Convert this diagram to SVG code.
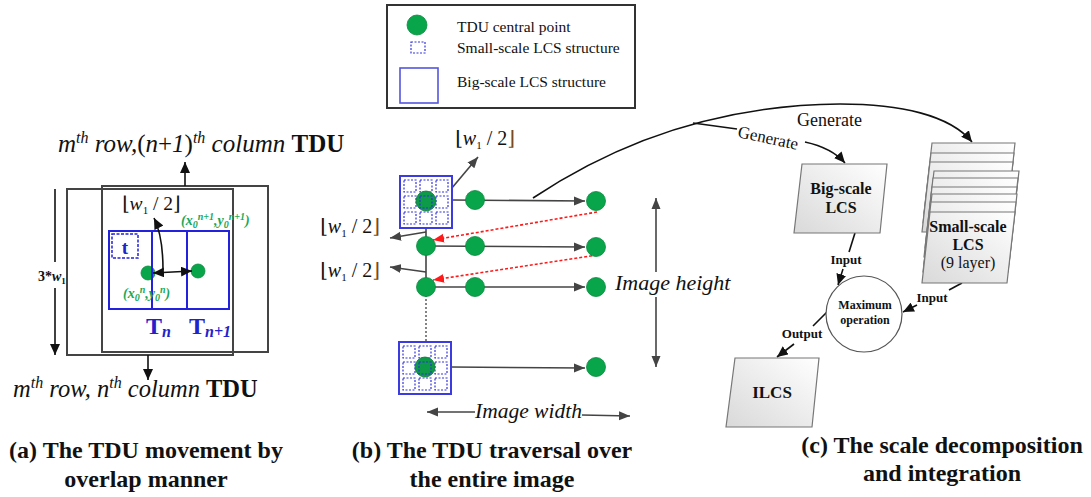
<svg xmlns="http://www.w3.org/2000/svg" width="1091" height="497" viewBox="0 0 1091 497">
  <style>
    text { font-family: "Liberation Serif", "Times New Roman", Times, serif; fill: #111; }
    .br { font-family: "DejaVu Serif", serif; }
    .it { font-style: italic; }
    .bd { font-weight: bold; }
    .cap { font-size: 24px; font-weight: bold; text-anchor: middle; }
    .frame { fill: none; stroke: #444; stroke-width: 2; }
    .blue { fill: none; stroke: #2222dd; stroke-width: 2; }
    .cell { fill: none; stroke: #3333dd; stroke-width: 1.2; stroke-dasharray: 2 1.5; }
    .dot { fill: #08a54b; stroke: #0a8a3e; stroke-width: 0.8; }
    .gline { fill: none; stroke: #444; stroke-width: 1.6; }
    .kline { fill: none; stroke: #111; stroke-width: 1.6; }
    .red { fill: none; stroke: #ff1a1a; stroke-width: 1.6; stroke-dasharray: 3 2; }
    .para { fill: url(#paper); stroke: #777; stroke-width: 1.2; }
    .green { fill: #19a857; font-weight: bold; font-style: italic; font-size: 14px; }
    .tb { fill: #2222cc; font-weight: bold; }
    .small { font-size: 13px; font-weight: bold; }
  </style>
  <defs>
    <linearGradient id="paper" x1="1" y1="0" x2="0" y2="1">
      <stop offset="0" stop-color="#ffffff"/>
      <stop offset="1" stop-color="#d9d9d9"/>
    </linearGradient>
    <marker id="ak" markerUnits="userSpaceOnUse" markerWidth="12" markerHeight="10" refX="11" refY="5" orient="auto-start-reverse">
      <path d="M0,0 L11,5 L0,10 z" fill="#111"/>
    </marker>
    <marker id="ag" markerUnits="userSpaceOnUse" markerWidth="12" markerHeight="10" refX="11" refY="5" orient="auto-start-reverse">
      <path d="M0,0.5 L11,5 L0,9.5 z" fill="#444"/>
    </marker>
    <marker id="ar" markerUnits="userSpaceOnUse" markerWidth="12" markerHeight="10" refX="11" refY="5" orient="auto">
      <path d="M0,0.5 L11,5 L0,9.5 z" fill="#ff1a1a"/>
    </marker>
    <!-- 3x3 block of small-scale cells inside a big-scale square -->
    <g id="grid">
      <rect x="0" y="0" width="52" height="52" fill="#fff" stroke="#3b3be0" stroke-width="2"/>
      <rect class="cell" x="4" y="4" width="12" height="12"/>
      <rect class="cell" x="20" y="4" width="12" height="12"/>
      <rect class="cell" x="36" y="4" width="12" height="12"/>
      <rect class="cell" x="4" y="20" width="12" height="12"/>
      <rect class="cell" x="36" y="20" width="12" height="12"/>
      <rect class="cell" x="4" y="36" width="12" height="12"/>
      <rect class="cell" x="20" y="36" width="12" height="12"/>
      <rect class="cell" x="36" y="36" width="12" height="12"/>
      <circle cx="26" cy="25" r="10" fill="#0d9a49" stroke="#0a7a38" stroke-width="0.8"/>
      <rect class="cell" x="20" y="20" width="12" height="12"/>
    </g>
  </defs>

  <rect width="1091" height="497" fill="#fff"/>

  <!-- Legend -->
  <g id="legend">
    <rect x="387" y="5" width="248" height="103" fill="#fff" stroke="#333" stroke-width="2"/>
    <circle class="dot" cx="417" cy="25" r="10"/>
    <rect class="cell" x="411" y="42" width="14" height="11"/>
    <rect x="400" y="68" width="38" height="35" fill="none" stroke="#5555dd" stroke-width="1.6"/>
    <text x="457" y="32" font-size="15.5">TDU central point</text>
    <text x="457" y="53" font-size="15.5">Small-scale LCS structure</text>
    <text x="457" y="87" font-size="15.5">Big-scale LCS structure</text>
  </g>

  <!-- Panel (a): TDU moving with overlap -->
  <g id="panel-a">
    <g id="tdu-frames">
      <rect class="frame" x="67" y="189" width="166" height="166"/>
      <rect class="frame" x="102" y="186" width="166" height="166"/>
    </g>
    <g id="cells-a">
      <circle class="dot" cx="148" cy="273" r="7"/>
      <circle class="dot" cx="198" cy="271" r="7"/>
      <rect class="blue" x="109" y="231" width="120" height="78"/>
      <line x1="152" y1="231" x2="152" y2="309" stroke="#2222dd" stroke-width="2"/>
      <line x1="187" y1="231" x2="187" y2="309" stroke="#2222dd" stroke-width="2"/>
      <rect x="112" y="234" width="26" height="24" fill="none" stroke="#2222dd" stroke-width="1.5" stroke-dasharray="3 1.5"/>
      <text class="tb" x="125" y="254" font-size="19" text-anchor="middle">t</text>
    </g>
    <g id="labels-a">
      <text x="58" y="152" font-size="25"><tspan class="it">m</tspan><tspan class="it" font-size="16" dy="-9">th</tspan><tspan class="it" dy="9"> row,</tspan><tspan>(</tspan><tspan class="it">n</tspan><tspan>+</tspan><tspan class="it">1</tspan><tspan>)</tspan><tspan class="it" font-size="16" dy="-9">th</tspan><tspan class="it" dy="9"> column </tspan><tspan class="bd">TDU</tspan></text>
      <text x="13" y="397" font-size="24.5"><tspan class="it">m</tspan><tspan class="it" font-size="16" dy="-9">th</tspan><tspan class="it" dy="9"> row, n</tspan><tspan class="it" font-size="16" dy="-9">th</tspan><tspan class="it" dy="9"> column </tspan><tspan class="bd">TDU</tspan></text>
      <text x="122" y="210" font-size="19.5"><tspan class="br">⌊</tspan><tspan class="it">w</tspan><tspan font-size="11" dy="4">1</tspan><tspan dy="-4"> / 2</tspan><tspan class="br">⌋</tspan></text>
      <text class="green" x="181" y="225">(x<tspan font-size="10" dy="3">0</tspan><tspan font-size="10" dy="-8">n+1</tspan><tspan dy="5">,y</tspan><tspan font-size="10" dy="3">0</tspan><tspan font-size="10" dy="-8">n+1</tspan><tspan dy="5">)</tspan></text>
      <text class="green" x="123" y="298">(x<tspan font-size="10" dy="3">0</tspan><tspan font-size="10" dy="-8">n</tspan><tspan dy="5">,y</tspan><tspan font-size="10" dy="3">0</tspan><tspan font-size="10" dy="-8">n</tspan><tspan dy="5">)</tspan></text>
      <text class="tb" x="146" y="334" font-size="24">T<tspan font-size="16" font-style="italic" dy="3">n</tspan></text>
      <text class="tb" x="189" y="334" font-size="24">T<tspan font-size="16" font-style="italic" dy="3">n+1</tspan></text>
      <text x="38" y="281" font-size="14" class="bd">3*<tspan class="it">w</tspan><tspan font-size="9" dy="3">1</tspan></text>
    </g>
    <g id="connectors-a">
      <line class="kline" x1="185" y1="186" x2="185" y2="162" marker-end="url(#ak)"/>
      <line class="kline" x1="148" y1="355" x2="148" y2="380" marker-end="url(#ak)"/>
      <line class="kline" x1="55" y1="189" x2="55" y2="262"/>
      <line class="kline" x1="55" y1="288" x2="55" y2="355" marker-end="url(#ak)"/>
      <line class="kline" x1="153" y1="273" x2="192" y2="271" marker-start="url(#ak)" marker-end="url(#ak)"/>
      <path class="kline" d="M163,270 Q163,236 154,218" marker-end="url(#ak)"/>
    </g>
  </g>

  <!-- Panel (b): traversal of the TDU over the image -->
  <g id="panel-b">
    <g id="connectors-b">
      <line class="gline" x1="426" y1="227" x2="426" y2="287"/>
      <line x1="426" y1="287" x2="426" y2="358" stroke="#333" stroke-width="1.2" stroke-dasharray="2 2"/>
      <line class="gline" x1="452" y1="200" x2="585" y2="201" marker-end="url(#ag)"/>
      <line class="gline" x1="426" y1="246" x2="585" y2="247" marker-end="url(#ag)"/>
      <line class="gline" x1="426" y1="287" x2="585" y2="287" marker-end="url(#ag)"/>
      <line class="gline" x1="451" y1="367" x2="585" y2="368" marker-end="url(#ag)"/>
      <line class="gline" x1="446" y1="195" x2="478" y2="157" marker-end="url(#ag)"/>
      <line class="gline" x1="426" y1="232" x2="390" y2="238" marker-end="url(#ag)"/>
      <line class="gline" x1="426" y1="272" x2="390" y2="267" marker-end="url(#ag)"/>
      <line class="red" x1="597" y1="212" x2="433" y2="240" marker-end="url(#ar)"/>
      <line class="red" x1="597" y1="255" x2="433" y2="280" marker-end="url(#ar)"/>
      <line class="gline" x1="656" y1="272" x2="656" y2="198" marker-end="url(#ag)"/>
      <line class="gline" x1="656" y1="297" x2="656" y2="367" marker-end="url(#ag)"/>
      <line class="gline" x1="475" y1="412" x2="427" y2="412" marker-end="url(#ag)"/>
      <line class="gline" x1="582" y1="415" x2="630" y2="416" marker-end="url(#ag)"/>
    </g>
    <use id="tdu-start" href="#grid" x="400" y="176"/>
    <use id="tdu-last-row" href="#grid" x="399" y="342"/>
    <g id="centres">
      <circle class="dot" cx="475" cy="200" r="9.5"/>
      <circle class="dot" cx="596" cy="201" r="9.5"/>
      <circle class="dot" cx="426" cy="246" r="9.5"/>
      <circle class="dot" cx="475" cy="246" r="9.5"/>
      <circle class="dot" cx="596" cy="247" r="9.5"/>
      <circle class="dot" cx="426" cy="287" r="9.5"/>
      <circle class="dot" cx="475" cy="287" r="9.5"/>
      <circle class="dot" cx="596" cy="287" r="9.5"/>
      <circle class="dot" cx="596" cy="367" r="9.5"/>
    </g>
    <g id="labels-b">
      <text x="455" y="145" font-size="20"><tspan class="br">⌊</tspan><tspan class="it">w</tspan><tspan font-size="11" dy="4">1</tspan><tspan dy="-4"> / 2</tspan><tspan class="br" fill="#7a4a1a">⌋</tspan></text>
      <text x="320" y="233" font-size="20"><tspan class="br">⌊</tspan><tspan class="it">w</tspan><tspan font-size="11" dy="4">1</tspan><tspan dy="-4"> / 2</tspan><tspan class="br" fill="#7a4a1a">⌋</tspan></text>
      <text x="320" y="277" font-size="20"><tspan class="br">⌊</tspan><tspan class="it">w</tspan><tspan font-size="11" dy="4">1</tspan><tspan dy="-4"> / 2</tspan><tspan class="br" fill="#7a4a1a">⌋</tspan></text>
      <text class="it" x="615" y="290" font-size="22">Image height</text>
      <text class="it" x="475" y="418" font-size="21.5">Image width</text>
    </g>
  </g>

  <!-- Panel (c): scale decomposition and integration -->
  <g id="panel-c">
    <g id="connectors-c">
      <path class="kline" d="M533,198 C620,140 720,105 840,104 C900,104 950,115 972,142" marker-end="url(#ak)"/>
      <line class="kline" x1="693" y1="123" x2="737" y2="129"/>
      <path class="kline" d="M805,142 Q832,148 845,163" marker-end="url(#ak)"/>
      <line class="kline" x1="855" y1="233" x2="849" y2="252"/>
      <line class="kline" x1="843" y1="269" x2="838" y2="285" marker-end="url(#ak)"/>
      <line class="kline" x1="962" y1="283" x2="949" y2="290"/>
      <line class="kline" x1="917" y1="305" x2="903" y2="312" marker-end="url(#ak)"/>
      <line class="kline" x1="828" y1="311" x2="813" y2="326"/>
      <line class="kline" x1="794" y1="344" x2="777" y2="357" marker-end="url(#ak)"/>
    </g>
    <text x="797" y="126" font-size="18">Generate</text>
    <text x="737" y="137" font-size="17" transform="rotate(12 737 137)">Generate</text>

    <g id="big-scale-lcs">
      <polygon class="para" points="802,164 887,164 880,233 794,233"/>
      <text class="bd" x="841" y="194" font-size="16" text-anchor="middle">Big-scale</text>
      <text class="bd" x="841" y="213" font-size="16" text-anchor="middle">LCS</text>
    </g>

    <g id="small-scale-lcs">
      <polygon class="para" points="932,143 1015,143 1007,213 924,213"/>
      <polygon class="para" points="931,153 1014,153 1006,223 923,223"/>
      <polygon class="para" points="930,162 1013,162 1005,232 922,232"/>
      <polygon class="para" points="934,171 1019,171 1011,241 926,241"/>
      <polygon class="para" points="933,178 1018,178 1010,248 925,248"/>
      <polygon class="para" points="932,187 1017,187 1009,257 924,257"/>
      <polygon class="para" points="932,194 1017,194 1009,264 924,264"/>
      <polygon class="para" points="931,202 1016,202 1008,272 923,272"/>
      <polygon class="para" points="930,212 1015,212 1007,283 922,283"/>
      <text class="bd" x="968" y="232" font-size="16" text-anchor="middle">Small-scale</text>
      <text class="bd" x="968" y="250" font-size="16" text-anchor="middle">LCS</text>
      <text x="968" y="268" font-size="16" text-anchor="middle">(9 layer)</text>
    </g>

    <g id="max-operation">
      <circle cx="864" cy="314" r="38" fill="#fff" stroke="#555" stroke-width="1.2"/>
      <text class="bd" x="865" y="309" font-size="12" text-anchor="middle">Maximum</text>
      <text class="bd" x="865" y="324" font-size="12" text-anchor="middle">operation</text>
    </g>

    <g id="ilcs">
      <polygon class="para" points="735,358 819,358 812,427 726,427"/>
      <text class="bd" x="772" y="398" font-size="17" text-anchor="middle">ILCS</text>
    </g>

    <text class="small" x="846" y="264" text-anchor="middle">Input</text>
    <text class="small" x="932" y="302" text-anchor="middle">Input</text>
    <text class="small" x="802" y="338" text-anchor="middle">Output</text>
  </g>

  <!-- Captions -->
  <g id="captions">
    <text class="cap" x="146" y="458">(a) The TDU movement by</text>
    <text class="cap" x="146" y="487">overlap manner</text>
    <text class="cap" x="492" y="458">(b) The TDU traversal over</text>
    <text class="cap" x="492" y="487">the entire image</text>
    <text class="cap" x="942" y="453">(c) The scale decomposition</text>
    <text class="cap" x="942" y="481">and integration</text>
  </g>
</svg>
